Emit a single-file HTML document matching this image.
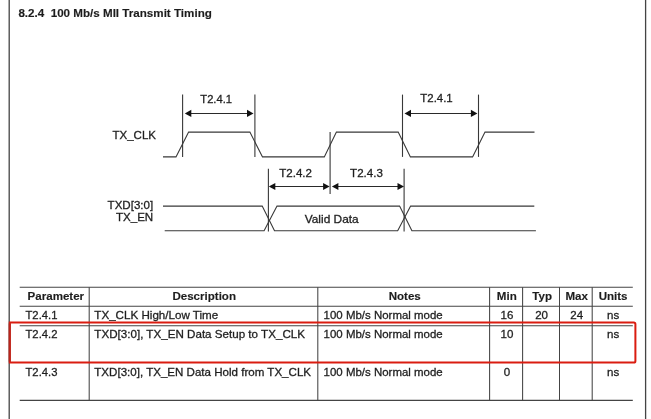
<!DOCTYPE html>
<html>
<head>
<meta charset="utf-8">
<title>8.2.4 100 Mb/s MII Transmit Timing</title>
<style>
html,body{margin:0;padding:0;background:#fff;}
body{width:651px;height:419px;overflow:hidden;position:relative;font-family:"Liberation Sans",sans-serif;}
svg{position:absolute;left:0;top:0;display:block;will-change:transform;}
text{font-family:"Liberation Sans",sans-serif;font-size:11.8px;fill:#1e1e1e;stroke:#1e1e1e;stroke-width:0.3;}
.b{font-weight:bold;stroke-width:0.15;}
.ln{stroke:#383838;stroke-width:1.1;fill:none;}
.al{stroke:#2a2a2a;stroke-width:1.05;fill:none;}
.tb{stroke:#444;stroke-width:1.05;fill:none;}
.pg{stroke:#444;stroke-width:1.3;fill:none;}
.ar{fill:#111;stroke:none;}
</style>
</head>
<body>
<svg width="651" height="419" viewBox="0 0 651 419">
<defs><filter id="bl" x="0" y="0" width="651" height="419" filterUnits="userSpaceOnUse"><feGaussianBlur stdDeviation="0.38"/></filter></defs>
<rect x="0" y="0" width="651" height="419" fill="#fff"/>
<g>
<!-- page borders -->
<line class="pg" x1="9.2" y1="0" x2="9.2" y2="419"/>
<line class="pg" x1="645.6" y1="0" x2="645.6" y2="419"/>
<!-- title -->
<!-- clock waveform -->
<polyline class="ln" points="163,156.9 176,156.9 188.6,132.1 249.9,132.1 262.5,156.9 324.3,156.9 336.4,132.1 398.2,132.1 410.4,156.9 472.6,156.9 485,132.1 534.5,132.1"/>
<line class="ln" x1="182.6" y1="94.6" x2="182.6" y2="156.9"/>
<line class="ln" x1="254.9" y1="94.6" x2="254.9" y2="156.9"/>
<line class="ln" x1="402.5" y1="94.6" x2="402.5" y2="156.9"/>
<line class="ln" x1="478.5" y1="94.6" x2="478.5" y2="156.9"/>
<line class="ln" x1="330.1" y1="132.1" x2="330.1" y2="193.9"/>
<line class="al" x1="190.3" y1="113.4" x2="248.0" y2="113.4"/><polygon class="ar" points="184.8,113.4 191.3,109.80000000000001 191.3,117.0"/><polygon class="ar" points="253.5,113.4 247.0,109.80000000000001 247.0,117.0"/>
<line class="al" x1="410.0" y1="113.4" x2="471.9" y2="113.4"/><polygon class="ar" points="404.5,113.4 411.0,109.80000000000001 411.0,117.0"/><polygon class="ar" points="477.4,113.4 470.9,109.80000000000001 470.9,117.0"/>
<!-- data waveform -->
<polyline class="ln" points="163,206.1 262.2,206.1 274.5,230.8 397.7,230.8 410.6,206.1 534.3,206.1"/>
<polyline class="ln" points="164.7,230.8 264.1,230.8 277,206.1 399.6,206.1 411.9,230.8 535.9,230.8"/>
<line class="ln" x1="268.4" y1="168.8" x2="268.4" y2="231.6"/>
<line class="ln" x1="404.1" y1="168.8" x2="404.1" y2="231.6"/>
<line class="al" x1="274.3" y1="186.5" x2="324.1" y2="186.5"/><polygon class="ar" points="268.8,186.5 275.3,182.9 275.3,190.1"/><polygon class="ar" points="329.6,186.5 323.1,182.9 323.1,190.1"/>
<line class="al" x1="337.4" y1="186.5" x2="398.5" y2="186.5"/><polygon class="ar" points="331.9,186.5 338.4,182.9 338.4,190.1"/><polygon class="ar" points="404.0,186.5 397.5,182.9 397.5,190.1"/>
<!-- table -->
<line class="tb" x1="19.7" y1="287.15" x2="632.8" y2="287.15"/>
<line class="tb" x1="19.7" y1="306.3" x2="632.8" y2="306.3"/>
<line class="tb" x1="19.7" y1="325.8" x2="632.8" y2="325.8"/>
<line class="tb" x1="19.7" y1="400.35" x2="632.8" y2="400.35"/>
<line class="tb" x1="89.2" y1="287.15" x2="89.2" y2="400.35"/>
<line class="tb" x1="317.8" y1="287.15" x2="317.8" y2="400.35"/>
<line class="tb" x1="489.6" y1="287.15" x2="489.6" y2="400.35"/>
<line class="tb" x1="522.6" y1="287.15" x2="522.6" y2="400.35"/>
<line class="tb" x1="559.5" y1="287.15" x2="559.5" y2="400.35"/>
<line class="tb" x1="592.2" y1="287.15" x2="592.2" y2="400.35"/>
<!-- red highlight box -->
<path d="M9.8,322.6 H633.8 Q635.4,322.6 635.4,324.2 V360.9 Q635.4,362.5 633.8,362.5 H9.8 Z" fill="none" stroke="#da1c10" stroke-width="2" stroke-linejoin="miter"/>
<line x1="9.75" y1="323.4" x2="9.75" y2="361.7" stroke="#b9241b" stroke-width="2"/>
</g>
<g filter="url(#bl)">
<g transform="translate(18.4,16.7) scale(0.985,1)"><text class="b" xml:space="preserve">8.2.4  100 Mb/s MII Transmit Timing</text></g>
<g transform="translate(200.3,102.5) scale(0.95,1)"><text xml:space="preserve">T2.4.1</text></g>
<g transform="translate(420.3,102.4) scale(0.97,1)"><text xml:space="preserve">T2.4.1</text></g>
<g transform="translate(112.5,139.45) scale(0.975,1)"><text xml:space="preserve">TX_CLK</text></g>
<g transform="translate(279.2,176.8) scale(0.98,1)"><text xml:space="preserve">T2.4.2</text></g>
<g transform="translate(350.1,176.8) scale(0.98,1)"><text xml:space="preserve">T2.4.3</text></g>
<g transform="translate(153.2,209.4) scale(0.98,1)"><text text-anchor="end" xml:space="preserve">TXD[3:0]</text></g>
<g transform="translate(153.2,221.4) scale(0.98,1)"><text text-anchor="end" xml:space="preserve">TX_EN</text></g>
<g transform="translate(304.7,222.8) scale(1.01,1)"><text xml:space="preserve">Valid Data</text></g>
<g transform="translate(27.6,300.0) scale(0.98,1)"><text class="b" xml:space="preserve">Parameter</text></g>
<g transform="translate(204.2,300.0) scale(0.98,1)"><text class="b" text-anchor="middle" xml:space="preserve">Description</text></g>
<g transform="translate(404.7,300.0) scale(0.98,1)"><text class="b" text-anchor="middle" xml:space="preserve">Notes</text></g>
<g transform="translate(506.8,300.0) scale(0.98,1)"><text class="b" text-anchor="middle" xml:space="preserve">Min</text></g>
<g transform="translate(542.1,300.0) scale(0.98,1)"><text class="b" text-anchor="middle" xml:space="preserve">Typ</text></g>
<g transform="translate(576.7,300.0) scale(0.98,1)"><text class="b" text-anchor="middle" xml:space="preserve">Max</text></g>
<g transform="translate(613.1,300.0) scale(0.98,1)"><text class="b" text-anchor="middle" xml:space="preserve">Units</text></g>
<g transform="translate(25.5,319.1) scale(0.955,1)"><text xml:space="preserve">T2.4.1</text></g>
<g transform="translate(94.3,319.1) scale(0.985,1)"><text xml:space="preserve">TX_CLK High/Low Time</text></g>
<g transform="translate(323.6,319.1) scale(0.972,1)"><text xml:space="preserve">100 Mb/s Normal mode</text></g>
<g transform="translate(507.0,319.1) scale(0.98,1)"><text text-anchor="middle" xml:space="preserve">16</text></g>
<g transform="translate(541.6,319.1) scale(0.98,1)"><text text-anchor="middle" xml:space="preserve">20</text></g>
<g transform="translate(576.7,319.1) scale(0.98,1)"><text text-anchor="middle" xml:space="preserve">24</text></g>
<g transform="translate(613.1,319.1) scale(0.98,1)"><text text-anchor="middle" xml:space="preserve">ns</text></g>
<g transform="translate(25.5,338.25) scale(0.955,1)"><text xml:space="preserve">T2.4.2</text></g>
<g transform="translate(94.3,338.25) scale(0.985,1)"><text xml:space="preserve">TXD[3:0], TX_EN Data Setup to TX_CLK</text></g>
<g transform="translate(323.6,338.25) scale(0.972,1)"><text xml:space="preserve">100 Mb/s Normal mode</text></g>
<g transform="translate(507.0,338.25) scale(0.98,1)"><text text-anchor="middle" xml:space="preserve">10</text></g>
<g transform="translate(613.1,338.25) scale(0.98,1)"><text text-anchor="middle" xml:space="preserve">ns</text></g>
<g transform="translate(25.5,375.9) scale(0.955,1)"><text xml:space="preserve">T2.4.3</text></g>
<g transform="translate(94.3,375.9) scale(0.981,1)"><text xml:space="preserve">TXD[3:0], TX_EN Data Hold from TX_CLK</text></g>
<g transform="translate(323.6,375.9) scale(0.972,1)"><text xml:space="preserve">100 Mb/s Normal mode</text></g>
<g transform="translate(507.0,375.9) scale(0.98,1)"><text text-anchor="middle" xml:space="preserve">0</text></g>
<g transform="translate(613.1,375.9) scale(0.98,1)"><text text-anchor="middle" xml:space="preserve">ns</text></g>
</g>
</svg>
</body>
</html>
